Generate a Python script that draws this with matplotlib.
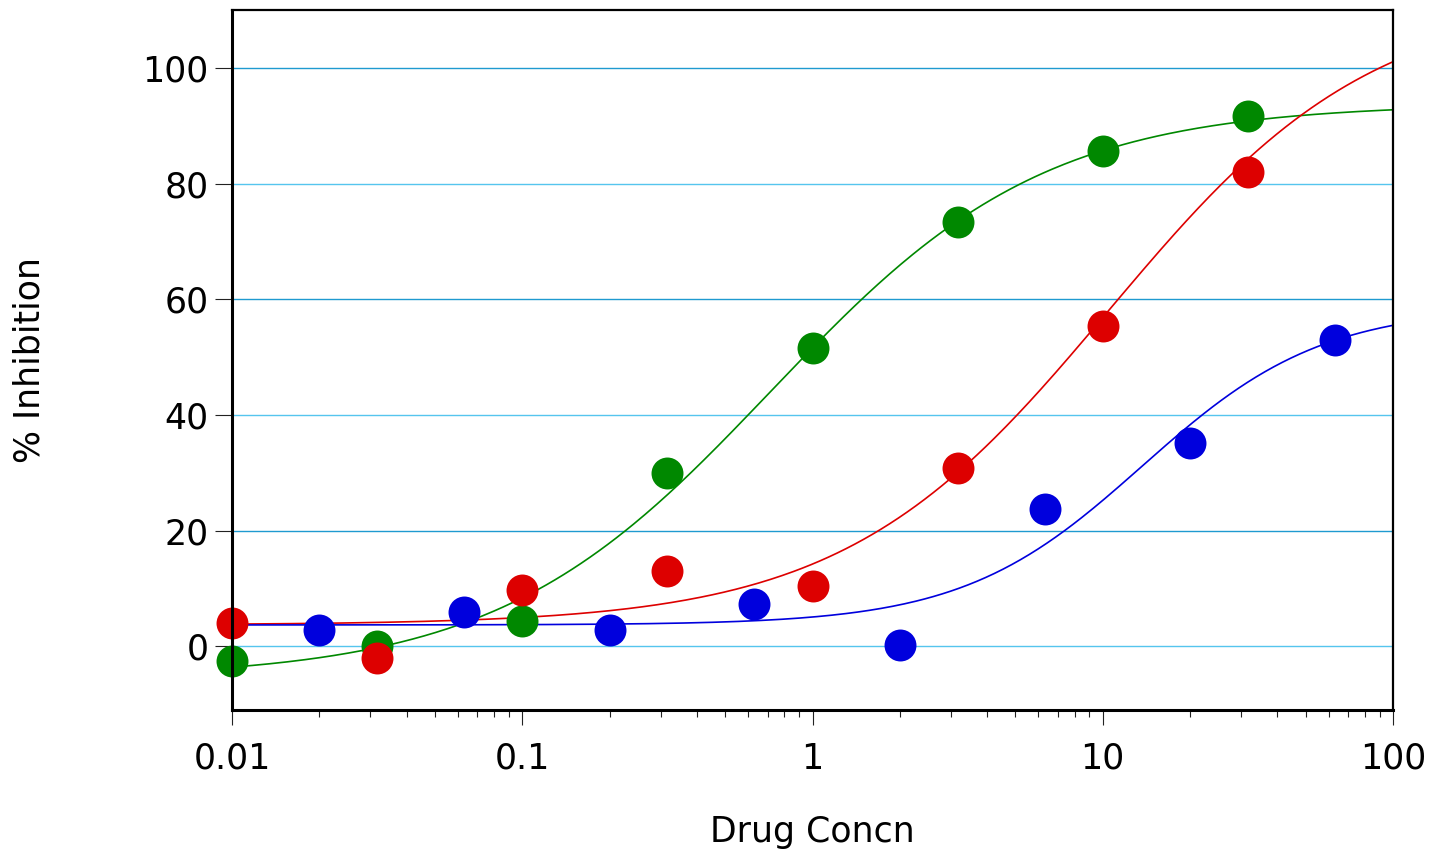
import matplotlib
matplotlib.use("Agg")
import matplotlib.pyplot as plt
import numpy as np
from matplotlib.ticker import LogLocator, NullFormatter, FixedLocator

# data
green_x = [0.01, 0.0316, 0.1, 0.316, 1.0, 3.16, 10.0, 31.6]
green_y = [-2.6, 0.0, 4.3, 30.0, 51.6, 73.4, 85.7, 91.7]
red_x = [0.01, 0.0316, 0.1, 0.316, 1.0, 3.16, 10.0, 31.6]
red_y = [4.0, -2.0, 9.8, 13.0, 10.4, 30.9, 55.3, 82.0]
blue_x = [0.02, 0.063, 0.2, 0.63, 2.0, 6.3, 20.0, 63.0]
blue_y = [2.9, 6.0, 2.9, 7.4, 0.2, 23.7, 35.2, 53.0]

# fitted 4-parameter logistic curves: bottom, top, EC50, hill
green_fit = (-5.5, 93.8, 0.72, 0.92)
red_fit = (3.7, 112.5, 10.5, 0.95)
blue_fit = (3.7, 58.7, 13.7, 1.4)

y_ticks = [0, 20, 40, 60, 80, 100]
x_ticks = [0.01, 0.1, 1, 10, 100]
x_tick_labels = ["0.01", "0.1", "1", "10", "100"]


def logistic(x, p):
    bottom, top, ec50, hill = p
    return bottom + (top - bottom) / (1 + (ec50 / x) ** hill)


fig = plt.figure(figsize=(14.46, 8.58), dpi=100)
ax = fig.add_axes([232 / 1446, 1 - 710 / 858, (1393 - 232) / 1446, 700 / 858])

ax.set_xscale("log")
ax.set_xlim(0.01, 100)
ax.set_ylim(-11, 110)

# horizontal grid, alternating shades
for v in y_ticks:
    c = "#55c5ee" if v % 40 == 0 else "#1f9ad0"
    ax.axhline(v, color=c, lw=1.0, zorder=1)

xs = np.logspace(-2, 2, 400)
series = [
    (green_x, green_y, green_fit, "#008800"),
    (red_x, red_y, red_fit, "#dd0000"),
    (blue_x, blue_y, blue_fit, "#0000dd"),
]
for px, py, fit, col in series:
    ax.plot(xs, logistic(xs, fit), color=col, lw=1.2, zorder=2)
for px, py, fit, col in series:
    ax.plot(px, py, "o", color=col, ms=23, mec="none", zorder=3, clip_on=False)

ax.xaxis.set_major_locator(FixedLocator(x_ticks))
ax.set_xticklabels(x_tick_labels)
ax.xaxis.set_minor_locator(LogLocator(base=10, subs=np.arange(2, 10)))
ax.xaxis.set_minor_formatter(NullFormatter())
ax.set_yticks(y_ticks)

ax.tick_params(axis="both", which="major", labelsize=25, direction="out",
               width=0.8, color="#222222")
ax.tick_params(axis="x", which="major", length=11, pad=12)
ax.tick_params(axis="y", which="major", length=12, pad=5)
ax.tick_params(axis="x", which="minor", direction="out", length=5, width=0.8,
               color="#222222")

for s in ax.spines.values():
    s.set_linewidth(1.6)
    s.set_zorder(4)
ax.spines["left"].set_linewidth(2.2)
ax.spines["bottom"].set_linewidth(2.2)

ax.set_xlabel("Drug Concn", fontsize=25)
ax.set_ylabel("% Inhibition", fontsize=25)
ax.xaxis.set_label_coords(0.5, -0.15)
ax.yaxis.set_label_coords(-0.160, 0.5)

fig.savefig("out.png", dpi=100)
